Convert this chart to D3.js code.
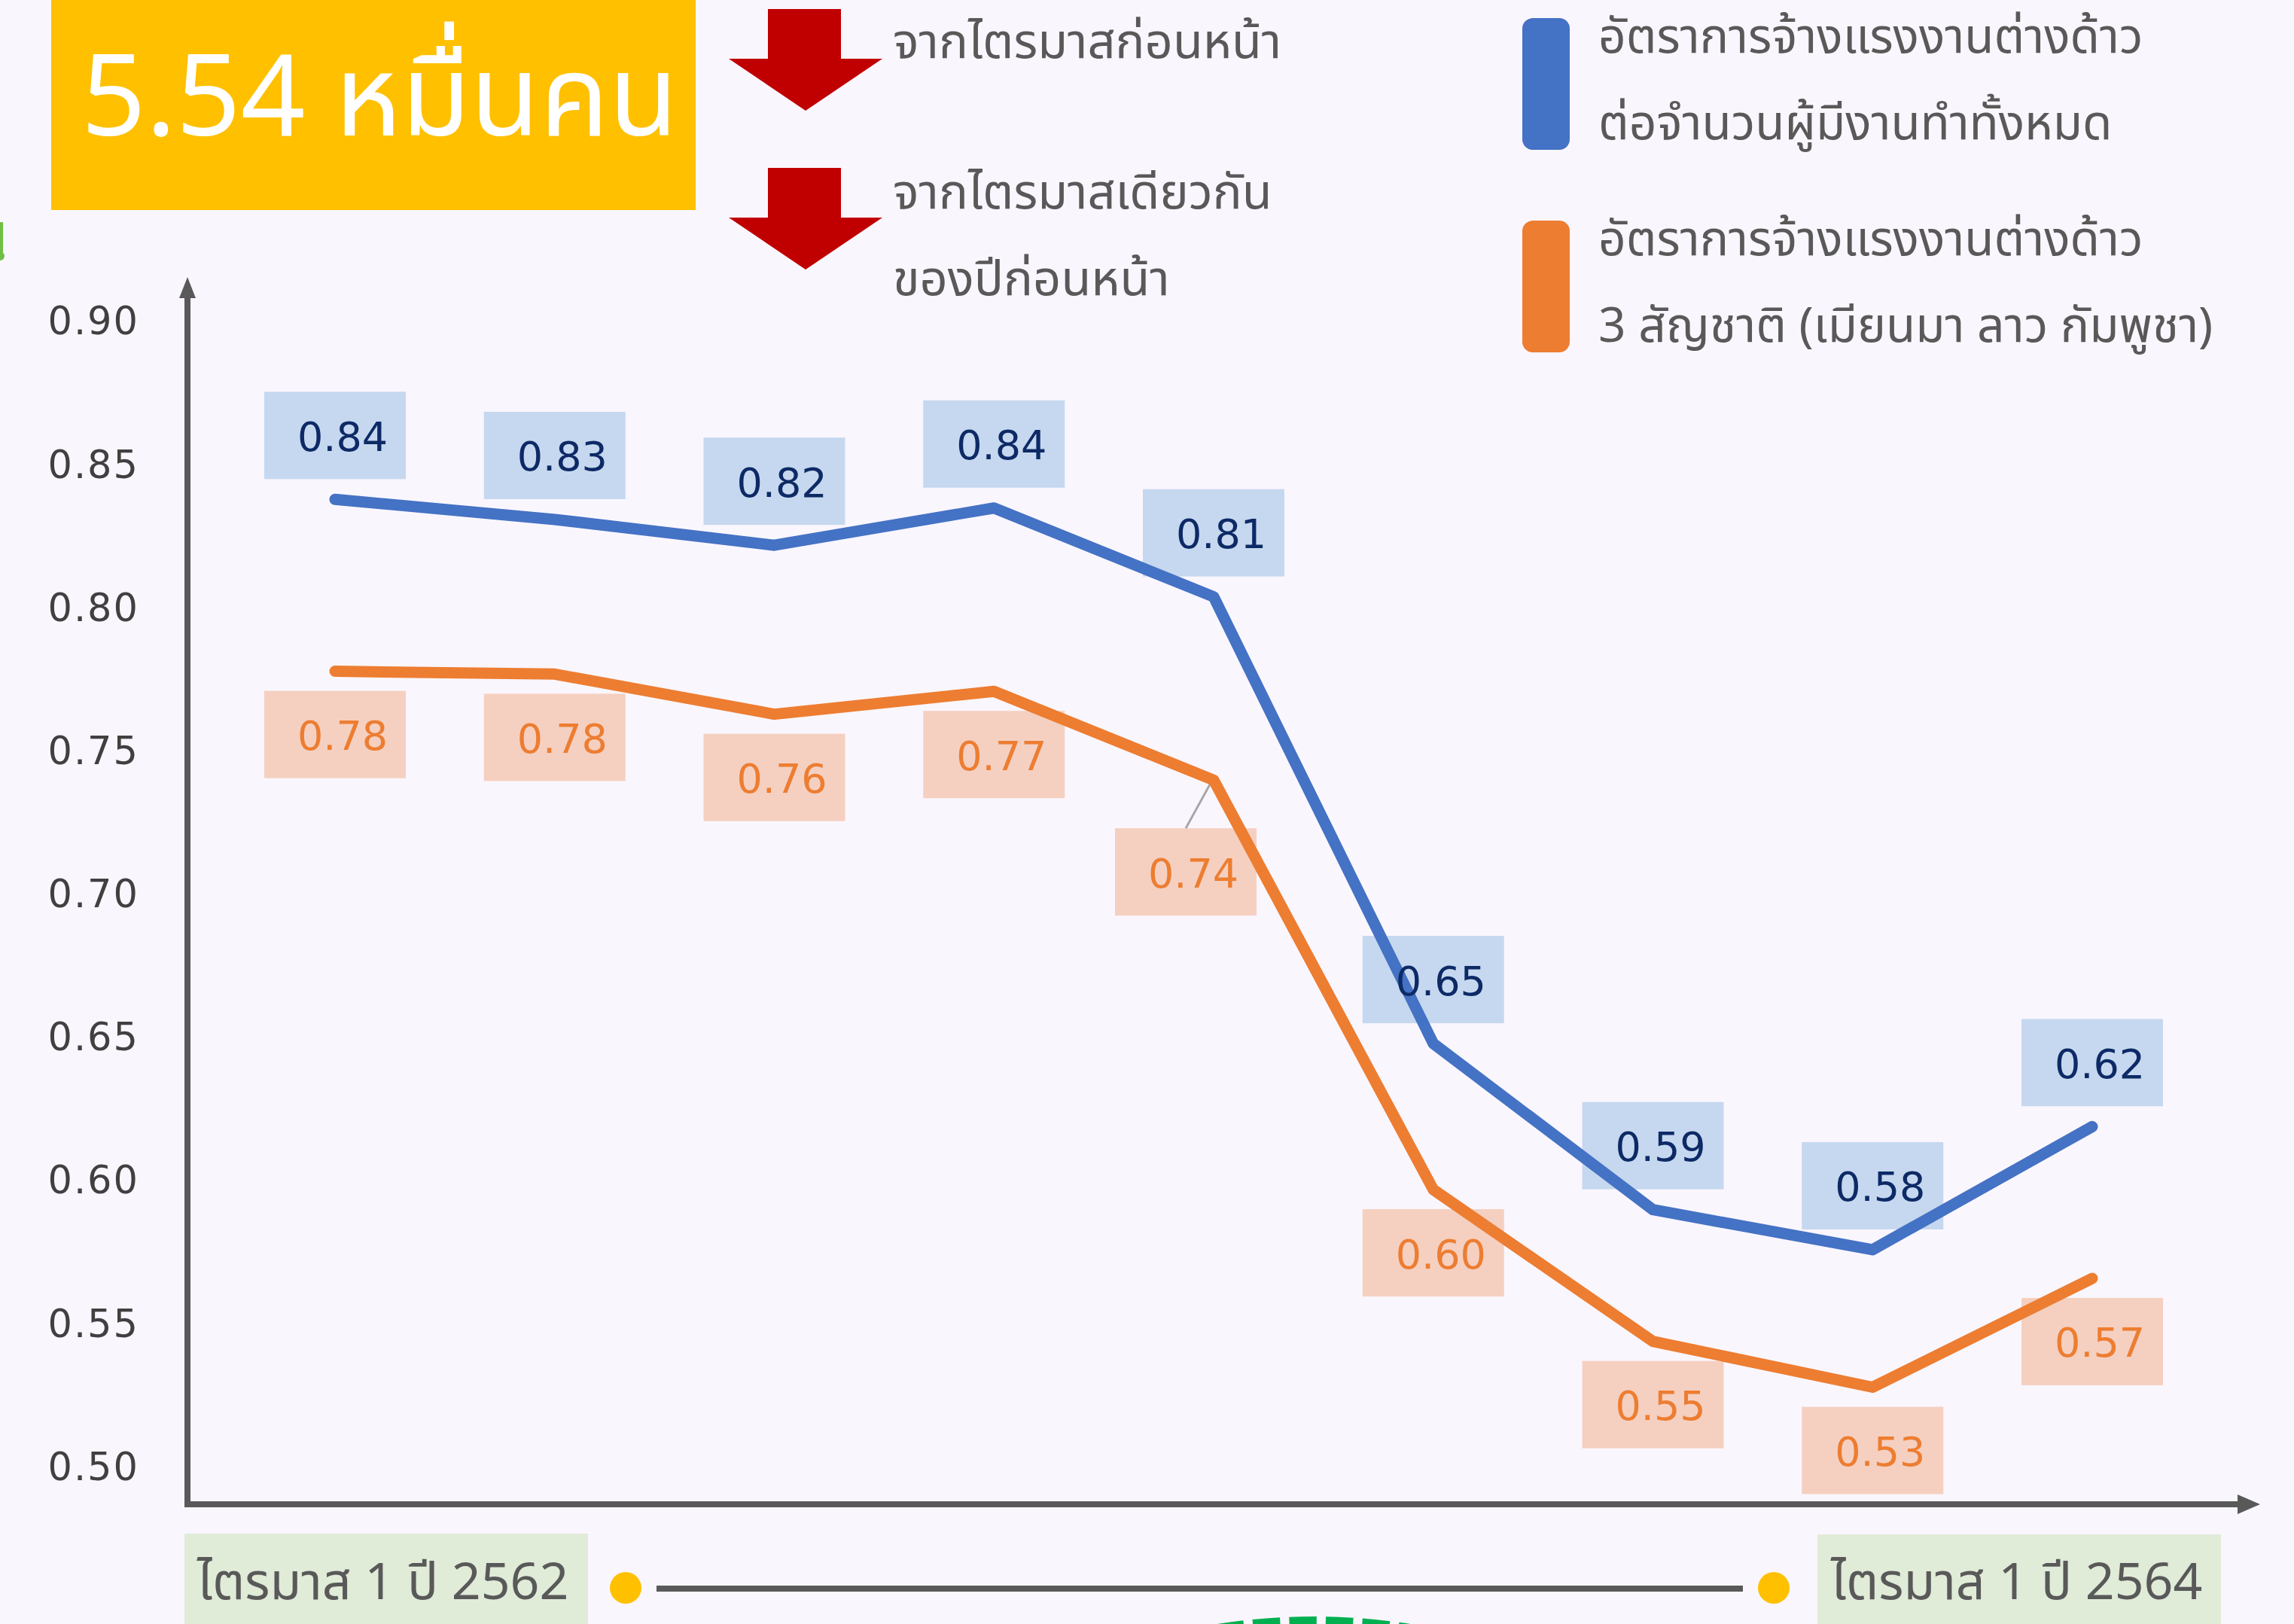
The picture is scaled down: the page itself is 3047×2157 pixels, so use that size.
<!DOCTYPE html>
<html>
<head>
<meta charset="utf-8">
<script src="https://cdn.jsdelivr.net/npm/d3@7"></script>
<style>
  body { margin: 0; background: #FAF6FE; }
  svg { display: block; }
</style>
</head>
<body>
<div id="chart"></div>
<script>
// quarters from Q1/2562 to Q1/2564
var quarters = ["ไตรมาส 1/2562", "ไตรมาส 2/2562", "ไตรมาส 3/2562", "ไตรมาส 4/2562",
  "ไตรมาส 1/2563", "ไตรมาส 2/2563", "ไตรมาส 3/2563", "ไตรมาส 4/2563", "ไตรมาส 1/2564"];

// foreign worker ratio to all employed persons
var allForeign = [0.838, 0.831, 0.822, 0.835, 0.804, 0.648, 0.590, 0.576, 0.619];
var allForeignLabels = ["0.84", "0.83", "0.82", "0.84", "0.81", "0.65", "0.59", "0.58", "0.62"];

// 3 nationalities (Myanmar, Laos, Cambodia)
var threeNat = [0.778, 0.777, 0.763, 0.771, 0.740, 0.597, 0.544, 0.528, 0.566];
var threeNatLabels = ["0.78", "0.78", "0.76", "0.77", "0.74", "0.60", "0.55", "0.53", "0.57"];

var yTicks = [0.50, 0.55, 0.60, 0.65, 0.70, 0.75, 0.80, 0.85, 0.90];

var legendNames = [
  ["อัตราการจ้างแรงงานต่างด้าว", "ต่อจำนวนผู้มีงานทำทั้งหมด"],
  ["อัตราการจ้างแรงงานต่างด้าว", "3 สัญชาติ (เมียนมา ลาว กัมพูชา)"]
];
var headline = "5.54 หมื่นคน";
var arrowNotes = [["จากไตรมาสก่อนหน้า"], ["จากไตรมาสเดียวกัน", "ของปีก่อนหน้า"]];
var periodStart = "ไตรมาส 1 ปี 2562";
var periodEnd = "ไตรมาส 1 ปี 2564";

var W = 3047, H = 2157;
var blue = "#4472C4", orange = "#ED7D31";
var thaiFont = "'Noto Sans Thai', 'Noto Sans', Loma, Garuda, sans-serif";
var numFont = "'DejaVu Sans', Verdana, sans-serif";

var svg = d3.select("#chart").append("svg")
  .attr("width", W)
  .attr("height", H);

svg.append("rect").attr("width", W).attr("height", H).attr("fill", "#FAF6FE");

var x = d3.scalePoint().domain(quarters).range([445, 2779]);
var y = d3.scaleLinear().domain([0.5, 0.9]).range([1949, 427.5]);

var axisX0 = 249, axisY0 = 1998;

// y tick labels
var yAxis = svg.append("g")
  .attr("transform", "translate(" + axisX0 + ",0)")
  .call(d3.axisLeft(y).tickValues(yTicks).tickSize(0).tickPadding(64).tickFormat(d3.format(".2f")));
yAxis.select(".domain").remove();
yAxis.selectAll("text")
  .style("font-family", numFont)
  .style("font-size", "51px")
  .style("letter-spacing", "2px")
  .attr("fill", "#404040");

// axis lines with arrow heads
svg.append("line")
  .attr("x1", axisX0).attr("y1", axisY0 + 4)
  .attr("x2", axisX0).attr("y2", 392)
  .attr("stroke", "#595959").attr("stroke-width", 8);
svg.append("path")
  .attr("d", "M" + (axisX0 - 11) + ",396 L" + axisX0 + ",368 L" + (axisX0 + 11) + ",396 Z")
  .attr("fill", "#595959");
svg.append("line")
  .attr("x1", axisX0 - 4).attr("y1", axisY0)
  .attr("x2", 2975).attr("y2", axisY0)
  .attr("stroke", "#595959").attr("stroke-width", 8);
svg.append("path")
  .attr("d", "M2972," + (axisY0 - 13) + " L3002," + axisY0 + " L2972," + (axisY0 + 13) + " Z")
  .attr("fill", "#595959");

// label boxes
var boxW = 188, boxH = 116;
var blueBoxes = svg.append("g");
blueBoxes.selectAll("rect")
  .data(allForeign)
  .enter().append("rect")
  .attr("x", function(d, i) { return x(quarters[i]) - boxW / 2; })
  .attr("y", function(d) { return y(d) - 27 - boxH; })
  .attr("width", boxW).attr("height", boxH)
  .attr("fill", "#C6D8EF");

var orangeShift = function(i) { return i == 4 ? {dx: -37, dy: 64} : {dx: 0, dy: 26}; };
var orangeBoxes = svg.append("g");
orangeBoxes.selectAll("rect")
  .data(threeNat)
  .enter().append("rect")
  .attr("x", function(d, i) { return x(quarters[i]) - boxW / 2 + orangeShift(i).dx; })
  .attr("y", function(d, i) { return y(d) + orangeShift(i).dy; })
  .attr("width", boxW).attr("height", boxH)
  .attr("fill", "#F5D0C1");

// leader line for the shifted 0.74 label
svg.append("line")
  .attr("x1", x(quarters[4]) - 4).attr("y1", y(threeNat[4]) + 4)
  .attr("x2", x(quarters[4]) - 37).attr("y2", y(threeNat[4]) + 64)
  .attr("stroke", "#A6A6A6").attr("stroke-width", 3);

// lines
var line = function(values) {
  return d3.line()
    .x(function(d, i) { return x(quarters[i]); })
    .y(function(d) { return y(d); })(values);
};
svg.append("path")
  .attr("d", line(threeNat))
  .attr("fill", "none").attr("stroke", orange)
  .attr("stroke-width", 15).attr("stroke-linecap", "round").attr("stroke-linejoin", "round");
svg.append("path")
  .attr("d", line(allForeign))
  .attr("fill", "none").attr("stroke", blue)
  .attr("stroke-width", 15).attr("stroke-linecap", "round").attr("stroke-linejoin", "round");

// data label texts
svg.append("g").selectAll("text")
  .data(allForeign)
  .enter().append("text")
  .attr("x", function(d, i) { return x(quarters[i]) + 10; })
  .attr("y", function(d) { return y(d) - 27 - boxH / 2 + 2; })
  .attr("text-anchor", "middle")
  .attr("dominant-baseline", "central")
  .style("font-family", numFont).style("font-size", "54px")
  .attr("fill", "#0D2A66")
  .text(function(d, i) { return allForeignLabels[i]; });

svg.append("g").selectAll("text")
  .data(threeNat)
  .enter().append("text")
  .attr("x", function(d, i) { return x(quarters[i]) + 10 + orangeShift(i).dx; })
  .attr("y", function(d, i) { return y(d) + orangeShift(i).dy + boxH / 2 + 2; })
  .attr("text-anchor", "middle")
  .attr("dominant-baseline", "central")
  .style("font-family", numFont).style("font-size", "54px")
  .attr("fill", orange)
  .text(function(d, i) { return threeNatLabels[i]; });

// headline box
svg.append("rect")
  .attr("x", 68).attr("y", 0).attr("width", 856).attr("height", 279)
  .attr("fill", "#FFC000");
svg.append("text")
  .attr("x", 108).attr("y", 180)
  .style("font-family", thaiFont).style("font-size", "150px")
  .attr("fill", "#FFFFFF")
  .text(headline);

// red arrows with notes
var arrowTops = [12, 223];
arrowTops.forEach(function(t, k) {
  svg.append("path")
    .attr("d", "M1020," + t + " L1117," + t + " L1117," + (t + 66) + " L1172," + (t + 66) +
      " L1070," + (t + 135) + " L968," + (t + 66) + " L1020," + (t + 66) + " Z")
    .attr("fill", "#C00000");
});
var noteBaselines = [[77], [277, 392]];
arrowNotes.forEach(function(lines, k) {
  lines.forEach(function(s, j) {
    svg.append("text")
      .attr("x", 1186).attr("y", noteBaselines[k][j])
      .style("font-family", thaiFont).style("font-size", "65px")
      .attr("fill", "#595959")
      .text(s);
  });
});

// legend
var legendColors = [blue, orange];
var legendTops = [24, 293];
legendNames.forEach(function(lines, k) {
  svg.append("rect")
    .attr("x", 2022).attr("y", legendTops[k])
    .attr("width", 63).attr("height", 175)
    .attr("rx", 14)
    .attr("fill", legendColors[k]);
  lines.forEach(function(s, j) {
    svg.append("text")
      .attr("x", 2123).attr("y", legendTops[k] + 46 + j * 115)
      .style("font-family", thaiFont).style("font-size", "64px")
      .attr("fill", "#595959")
      .text(s);
  });
});

// period bar at the bottom
svg.append("rect").attr("x", 245).attr("y", 2037).attr("width", 536).attr("height", 130).attr("fill", "#E0EBD8");
svg.append("rect").attr("x", 2414).attr("y", 2038).attr("width", 536).attr("height", 130).attr("fill", "#E0EBD8");
svg.append("text")
  .attr("x", 262).attr("y", 2124)
  .style("font-family", thaiFont).style("font-size", "68px")
  .attr("fill", "#595959").text(periodStart);
svg.append("text")
  .attr("x", 2432).attr("y", 2124)
  .style("font-family", thaiFont).style("font-size", "68px")
  .attr("fill", "#595959").text(periodEnd);
svg.append("line")
  .attr("x1", 872).attr("y1", 2110).attr("x2", 2315).attr("y2", 2110)
  .attr("stroke", "#595959").attr("stroke-width", 8);
[831, 2356].forEach(function(cx) {
  svg.append("circle").attr("cx", cx).attr("cy", 2109).attr("r", 21).attr("fill", "#FFC000");
});

// partly visible green emblem below the frame
svg.append("circle")
  .attr("cx", 1745).attr("cy", 2147 + 830).attr("r", 815)
  .attr("fill", "none").attr("stroke", "#00B050")
  .attr("stroke-width", 30).attr("stroke-dasharray", "36 12").attr("stroke-dashoffset", 32);

// cut-off green glyph at the left edge
svg.append("rect").attr("x", 0).attr("y", 295).attr("width", 4).attr("height", 45).attr("fill", "#70BF45");
svg.append("circle").attr("cx", 0).attr("cy", 340).attr("r", 6).attr("fill", "#70BF45");
</script>
</body>
</html>
